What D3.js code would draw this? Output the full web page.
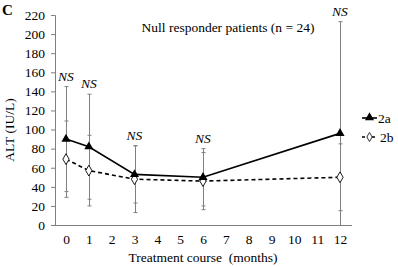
<!DOCTYPE html>
<html><head><meta charset="utf-8">
<script src="https://cdn.jsdelivr.net/npm/d3@7"></script>
<style>body{margin:0;background:#fff}svg{display:block}svg text{font-family:'Liberation Serif','Times New Roman','DejaVu Serif',serif !important}</style>
</head><body><svg id="c" width="398" height="267" font-family="Liberation Serif"></svg>
<script>
const months = [0, 1, 3, 6, 12];
const xTicks = [0,1,2,3,4,5,6,7,8,9,10,11,12];
const yTicks = [0,20,40,60,80,100,120,140,160,180,200,220];
const mean2a = [90, 82, 53, 50, 96];
const sd2a   = [55, 55, 30, 30, 117];
const mean2b = [69, 57, 48, 46, 50];
const sd2b   = [40, 37, 35, 30, 35];
const nsLabels = ["NS","NS","NS","NS","NS"];
const seriesNames = ["2a","2b"];

const FONT = "Liberation Serif";
const svg = d3.select("#c");
const x = d3.scaleLinear().domain([0,12]).range([66,340]);
const y = d3.scaleLinear().domain([0,220]).range([225,15]);
const gray = "#808080";

// Y axis
const ya = svg.append("g").attr("transform","translate(55,0)")
  .call(d3.axisLeft(y).tickValues(yTicks).tickSize(4).tickPadding(6));
ya.attr("font-family",FONT).attr("font-size",13.5);
ya.selectAll("path,line").attr("stroke",gray);
ya.selectAll("text").attr("fill","#000");
// X axis
const xa = svg.append("g").attr("transform","translate(0,225)")
  .call(d3.axisBottom(x).tickValues(xTicks).tickSize(0).tickPadding(9));
xa.attr("font-family",FONT).attr("font-size",13.5);
xa.select("path").attr("d","M55,0.5H352").attr("stroke",gray);
xa.selectAll("text").attr("fill","#000");

// Error bars
function errbars(means, sds){
  const g = svg.append("g").attr("stroke",gray).attr("stroke-width",1);
  months.forEach((m,i)=>{
    const lo = Math.max(0, means[i]-sds[i]), hi = means[i]+sds[i];
    const px = Math.round(x(m))+0.5;
    g.append("line").attr("x1",px).attr("x2",px).attr("y1",y(lo)).attr("y2",y(hi));
    g.append("line").attr("x1",px-2).attr("x2",px+2).attr("y1",y(hi)).attr("y2",y(hi));
    if (means[i]-sds[i] >= 0) g.append("line").attr("x1",px-2).attr("x2",px+2).attr("y1",y(lo)).attr("y2",y(lo));
  });
}
errbars(mean2a, sd2a);
errbars(mean2b, sd2b);

const line = d3.line().x((d,i)=>x(months[i])).y(d=>y(d));
svg.append("path").attr("d",line(mean2b)).attr("fill","none").attr("stroke","#000").attr("stroke-width",1.6).attr("stroke-dasharray","4,3");
svg.append("path").attr("d",line(mean2a)).attr("fill","none").attr("stroke","#000").attr("stroke-width",1.6);

const tri = d3.symbol().type(d3.symbolTriangle).size(36);
const dia = d3.symbol().type(d3.symbolDiamond).size(34);
svg.selectAll(".m2b").data(mean2b).join("path").attr("d",dia)
  .attr("transform",(d,i)=>`translate(${x(months[i])},${y(d)})`).attr("fill","#fff").attr("stroke","#000").attr("stroke-width",0.9);
svg.selectAll(".m2a").data(mean2a).join("path").attr("d",tri)
  .attr("transform",(d,i)=>`translate(${x(months[i])},${y(d)})`).attr("fill","#000");

function txt(){ return svg.append("text").attr("font-family",FONT).attr("font-size",13.5).attr("fill","#000"); }

// NS labels
months.forEach((m,i)=>{
  const top = Math.max(mean2a[i]+sd2a[i], mean2b[i]+sd2b[i]);
  txt().attr("x",x(m)).attr("y",y(top)-6).attr("text-anchor","middle")
    .attr("font-style","italic").text(nsLabels[i]);
});

// Legend
const lg = svg.append("g");
lg.append("line").attr("x1",362).attr("x2",377).attr("y1",118).attr("y2",118).attr("stroke","#000").attr("stroke-width",1.6);
lg.append("path").attr("d",tri).attr("transform","translate(369.5,117.5)").attr("fill","#000");
txt().attr("x",378).attr("y",122.5).text(seriesNames[0]);
lg.append("line").attr("x1",362).attr("x2",377).attr("y1",137).attr("y2",137).attr("stroke","#000").attr("stroke-width",1.4).attr("stroke-dasharray","3,2");
lg.append("path").attr("d",d3.symbol().type(d3.symbolDiamond).size(24)).attr("transform","translate(369.5,137)").attr("fill","#fff").attr("stroke","#000").attr("stroke-width",0.8);
txt().attr("x",380).attr("y",141.5).text(seriesNames[1]);

// Titles
txt().attr("x",228).attr("y",32).attr("text-anchor","middle").text("Null responder patients (n = 24)");
txt().attr("x",203).attr("y",262).attr("text-anchor","middle").style("white-space","pre").text("Treatment course  (months)");
txt().attr("transform","translate(14,130) rotate(-90)").attr("text-anchor","middle").text("ALT (IU/L)");
txt().attr("x",2).attr("y",15).attr("font-size",15).attr("font-weight","bold").text("C");
</script></body></html>
